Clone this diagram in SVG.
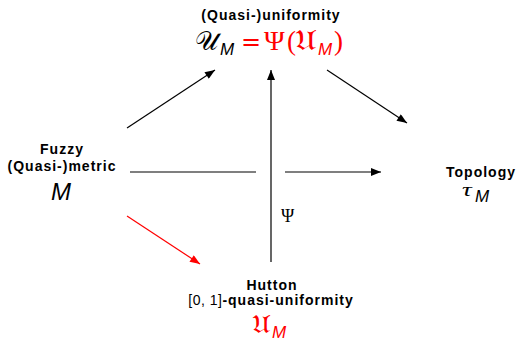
<svg xmlns="http://www.w3.org/2000/svg" width="518" height="342" viewBox="0 0 518 342">
<defs>
<marker id="ah" viewBox="0 0 10 8" refX="10" refY="4" markerWidth="11" markerHeight="8" markerUnits="userSpaceOnUse" orient="auto"><path d="M0,0 L10,4 L0,8 z" fill="#000"/></marker>
<marker id="ahr" viewBox="0 0 10 8" refX="10" refY="4" markerWidth="11" markerHeight="8" markerUnits="userSpaceOnUse" orient="auto"><path d="M0,0 L10,4 L0,8 z" fill="#f00"/></marker>
</defs>
<style>
.lbl{font-family:"Liberation Sans",Arial,sans-serif;font-weight:bold;font-size:14px;letter-spacing:1px;fill:#000;text-anchor:middle}
.mi{font-family:"Liberation Sans",Arial,sans-serif;font-style:italic}
.ms{font-family:"Liberation Serif","Times New Roman",serif}
.fr{font-family:"DejaVu Sans",sans-serif}
.red{fill:#f00}
.ln{stroke:#000;stroke-width:1.2;fill:none}
</style>
<rect width="518" height="342" fill="#fff"/>
<g id="connectors">
<line class="ln" x1="127" y1="128" x2="215" y2="70" marker-end="url(#ah)"/>
<line class="ln" x1="327" y1="70" x2="407" y2="123" marker-end="url(#ah)"/>
<line class="ln" x1="271" y1="262" x2="271" y2="70" marker-end="url(#ah)"/>
<line class="ln" x1="130" y1="172" x2="256" y2="172"/>
<line class="ln" x1="285" y1="172" x2="381" y2="172" marker-end="url(#ah)"/>
<line x1="127" y1="216" x2="200" y2="264" stroke="#f00" stroke-width="1.2" marker-end="url(#ahr)"/>
<text class="ms" x="281" y="222" font-size="18" fill="#000">Ψ</text>
</g>
<g id="uniformity">
<text class="lbl" x="271" y="20">(Quasi-)uniformity</text>
<text y="50" class="fr" font-size="26"><tspan x="195">𝒰</tspan><tspan class="mi" x="220" y="55" font-size="17">M</tspan><tspan class="red" x="241" y="50" font-size="24">=</tspan><tspan class="ms red" x="264" font-size="28">Ψ</tspan><tspan class="ms red" x="287" font-size="27">(</tspan><tspan class="mi red" x="318" y="55" font-size="17">M</tspan><tspan class="ms red" x="334" y="50" font-size="27">)</tspan></text>
<text class="fr red" transform="translate(295,50) scale(1.15,1)" font-size="29">𝔘</text>
</g>
<g id="metric">
<text class="lbl" x="62" y="154">Fuzzy</text>
<text class="lbl" x="62" y="171">(Quasi-)metric</text>
<text class="mi" x="61" y="200" font-size="24" text-anchor="middle">M</text>
</g>
<g id="topology">
<text class="lbl" x="481" y="177">Topology</text>
<text class="ms" font-style="italic" transform="translate(462,196) scale(1.5,1)" font-size="18">τ</text>
<text class="mi" x="475" y="202" font-size="17">M</text>
</g>
<g id="hutton">
<text class="lbl" x="272" y="290">Hutton</text>
<text class="lbl" x="271" y="305"><tspan font-weight="normal" letter-spacing="0.5">[0, 1]</tspan>-quasi-uniformity</text>
<text class="fr red" transform="translate(252,333) scale(1.15,1)" font-size="25">𝔘</text>
<text class="mi red" x="272" y="338" font-size="17">M</text>
</g>
</svg>
